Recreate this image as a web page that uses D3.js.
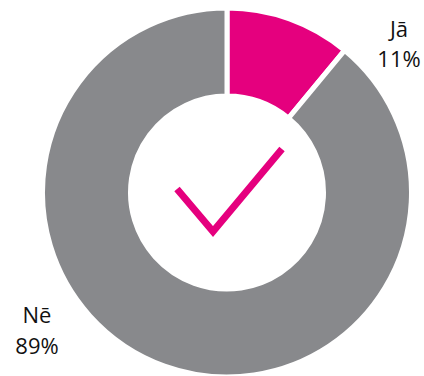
<!DOCTYPE html>
<html>
<head>
<meta charset="utf-8">
<script src="https://cdn.jsdelivr.net/npm/d3@7"></script>
<style>
  body { margin: 0; background: #fff; }
  text { font-family: "Open Sans", "Noto Sans", sans-serif; fill: #111; }
</style>
</head>
<body>
<script>
    // DATA
    const answers = ["Jā", "Nē"];
    const shares = [11, 89];
    const colors = ["#e5007e", "#88898c"];

    // svg
    var svg = d3.select("body")
        .append("svg")
        .attr("width", 424)
        .attr("height", 376);

    const cx = 227, cy = 192.5;
    const outerR = 184.5, innerR = 96.5;

    const grp = svg.append("g")
        .attr("transform", "translate(" + cx + "," + cy + ")");

    const pie = d3.pie().sort(null).value(d => d);
    const arcs = pie(shares);

    const arc = d3.arc()
        .innerRadius(innerR)
        .outerRadius(outerR);

    grp.selectAll("path.slice").data(arcs)
        .enter()
        .append("path")
        .attr("class", "slice")
        .attr("d", arc)
        .attr("fill", (d, i) => colors[i])
        .attr("stroke", "#fff")
        .attr("stroke-width", 5);

    // labels
    const labelPos = [[172, -156], [-190, 130.5]];
    arcs.forEach((d, i) => {
        const t = grp.append("text")
            .attr("text-anchor", "middle")
            .attr("font-size", 22)
            .attr("x", labelPos[i][0])
            .attr("y", labelPos[i][1]);
        t.append("tspan").attr("x", labelPos[i][0]).text(answers[i]);
        t.append("tspan").attr("x", labelPos[i][0]).attr("dy", 30.5).text(shares[i] + "%");
    });

    // check mark in the hole
    grp.append("path")
        .attr("d", "M-50,-3.5 L-14,39 L55,-43.5")
        .attr("fill", "none")
        .attr("stroke", colors[0])
        .attr("stroke-width", 7);
</script>
</body>
</html>
